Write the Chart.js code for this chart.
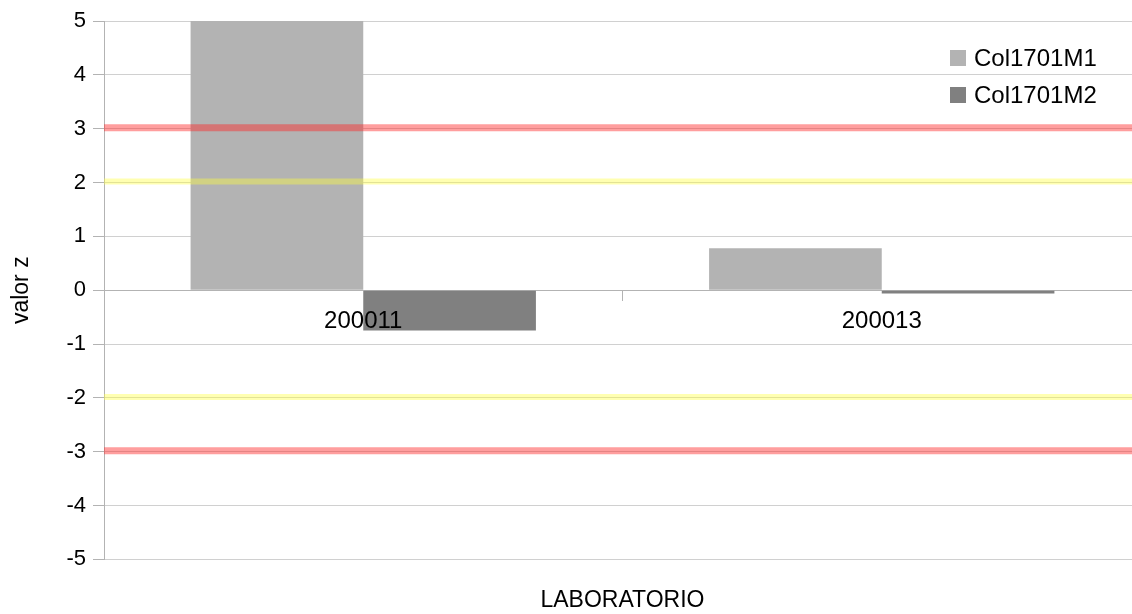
<!DOCTYPE html>
<html>
<head>
<meta charset="utf-8">
<script src="https://cdn.jsdelivr.net/npm/chart.js@4.4.0/dist/chart.umd.min.js"></script>
<style>
    html, body { margin: 0; padding: 0; background: #fff; overflow: hidden; }
    #wrap { position: relative; width: 1141px; height: 614px; }
    #legend { position: absolute; left: 950px; top: 39px; font: 24px "Liberation Sans", Arial, sans-serif; color: #000; }
    #legend div { height: 37px; display: flex; align-items: center; }
    #legend span.box { display: inline-block; width: 16px; height: 16px; margin-right: 8px; }
</style>
</head>
<body>
<div id="wrap">
    <canvas id="zChart"></canvas>
    <div id="legend"></div>
</div>
<script>
const labs = ['200011', '200013'];
const m1Values = [5, 0.78];
const m2Values = [-0.75, -0.06];
const seriesNames = ['Col1701M1', 'Col1701M2'];
const yTicks = [-5, -4, -3, -2, -1, 0, 1, 2, 3, 4, 5];
const limitLines = [
    { value: 3, color: 'rgba(255, 40, 40, 0.45)', width: 7 },
    { value: -3, color: 'rgba(255, 40, 40, 0.45)', width: 7 },
    { value: 2, color: 'rgba(255, 255, 60, 0.4)', width: 6 },
    { value: -2, color: 'rgba(255, 255, 60, 0.4)', width: 6 }
];

const fontFamily = '"Liberation Sans", Arial, sans-serif';

// horizontal control limits drawn over the bars
const limitsPlugin = {
    id: 'limits',
    afterDatasetsDraw(chart) {
        const ctx = chart.ctx;
        const y = chart.scales.y;
        const area = chart.chartArea;
        ctx.save();
        limitLines.forEach(function(l) {
            const py = y.getPixelForValue(l.value) - 1;
            ctx.strokeStyle = l.color;
            ctx.lineWidth = l.width;
            ctx.beginPath();
            ctx.moveTo(area.left, py);
            ctx.lineTo(area.right, py);
            ctx.stroke();
        });
        ctx.restore();
    }
};

const chart = new Chart(document.getElementById('zChart').getContext('2d'), {
    type: 'bar',
    data: {
        labels: labs,
        datasets: [{
            label: seriesNames[0],
            data: m1Values,
            backgroundColor: '#b3b3b3',
            categoryPercentage: 0.666,
            barPercentage: 1.0
        }, {
            label: seriesNames[1],
            data: m2Values,
            backgroundColor: '#808080',
            categoryPercentage: 0.666,
            barPercentage: 1.0
        }]
    },
    options: {
        responsive: true,
        maintainAspectRatio: false,
        animation: false,
        layout: { padding: { top: 21, left: 0, right: 0, bottom: 0 } },
        font: { family: fontFamily, size: 22 },
        plugins: {
            legend: { display: false },
            tooltip: { enabled: false }
        },
        scales: {
            x: {
                position: { y: 0 },
                offset: true,
                grid: {
                    offset: true,
                    drawOnChartArea: false,
                    drawTicks: true,
                    tickLength: 10,
                    color: '#b3b3b3'
                },
                border: { display: true, color: '#b3b3b3' },
                ticks: { z: 1, color: '#000', padding: 7, font: { family: fontFamily, size: 24 } }
            },
            x2: {
                type: 'category',
                labels: labs,
                position: 'bottom',
                grid: { display: false },
                border: { display: false },
                ticks: { display: false },
                title: {
                    display: true,
                    text: 'LABORATORIO',
                    color: '#000',
                    padding: { top: 19, bottom: 0 },
                    font: { family: fontFamily, size: 23 }
                }
            },
            y: {
                min: -5,
                max: 5,
                afterBuildTicks: function(scale) {
                    scale.ticks = yTicks.map(function(v) { return { value: v }; });
                },
                afterFit: function(scale) { scale.width = 104; },
                grid: {
                    color: '#d0d0d0',
                    tickLength: 11,
                    tickColor: '#b3b3b3'
                },
                border: { display: true, color: '#b3b3b3' },
                ticks: { color: '#000', padding: 7, font: { family: fontFamily, size: 22 } },
                title: {
                    display: true,
                    text: 'valor z',
                    color: '#000',
                    padding: { top: 8, bottom: 0 },
                    font: { family: fontFamily, size: 23 }
                }
            }
        }
    },
    plugins: [limitsPlugin]
});

// legend built from the datasets
const legendEl = document.getElementById('legend');
chart.data.datasets.forEach(function(ds) {
    const row = document.createElement('div');
    const box = document.createElement('span');
    box.className = 'box';
    box.style.background = ds.backgroundColor;
    row.appendChild(box);
    row.appendChild(document.createTextNode(ds.label));
    legendEl.appendChild(row);
});
</script>
</body>
</html>
